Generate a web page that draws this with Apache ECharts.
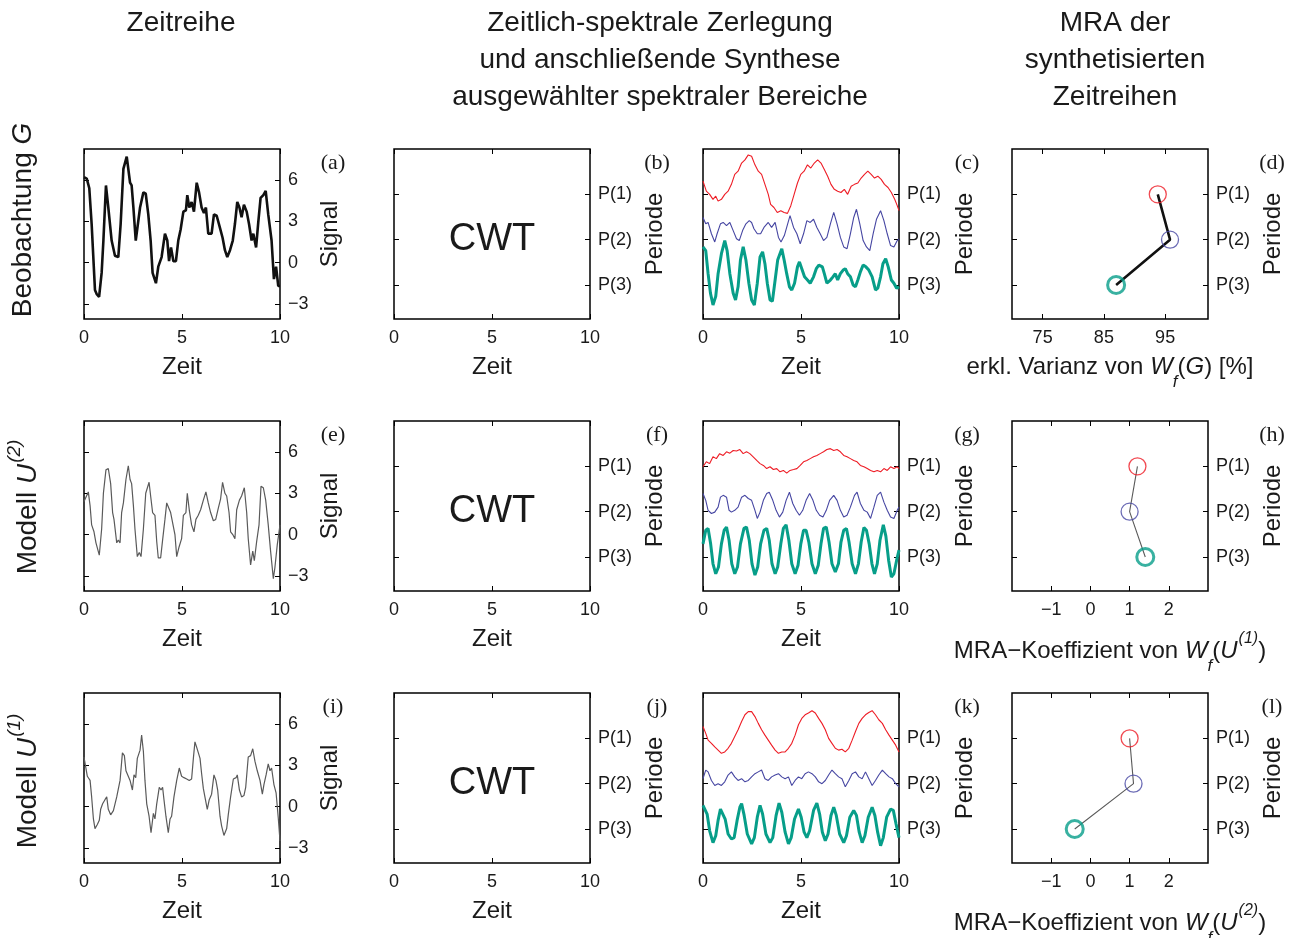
<!DOCTYPE html>
<html>
<head>
<meta charset="utf-8">
<script src="https://cdn.jsdelivr.net/npm/echarts@6/dist/echarts.min.js"></script>
<style>
  html, body { margin: 0; padding: 0; background: #fff; }
  #chart { width: 1295px; height: 938px; }
</style>
</head>
<body>
<div id="chart"></div>
<script>
// Zeitreihen (Spalte 1): [Zeit, Signal]
var obsSignal = [[0,6.2],[0.14,6.1],[0.27,5.4],[0.39,2.8],[0.56,-2.0],[0.65,-2.3],[0.77,-2.5],[0.9,-0.75],[0.99,1.6],[1.12,5.6],[1.24,4.0],[1.41,1.6],[1.58,0.5],[1.75,0.4],[1.87,2.8],[2.01,6.8],[2.18,7.7],[2.26,7.6],[2.35,5.8],[2.43,5.6],[2.52,4.0],[2.64,1.6],[2.72,1.7],[2.86,4.0],[3.03,5.1],[3.15,5.0],[3.28,3.5],[3.4,1.6],[3.5,-0.75],[3.67,-1.5],[3.79,-0.3],[3.96,0.4],[4.13,2.1],[4.25,1.6],[4.34,0.1],[4.44,1.1],[4.56,0.1],[4.69,0.1],[4.81,1.6],[4.93,2.4],[5.07,3.7],[5.2,3.8],[5.27,4.9],[5.37,4.0],[5.49,4.4],[5.61,3.7],[5.75,5.8],[5.87,5.1],[6.0,4.0],[6.12,3.6],[6.22,4.0],[6.34,2.1],[6.51,2.1],[6.63,3.5],[6.77,3.4],[6.94,2.5],[7.07,1.8],[7.19,0.9],[7.31,0.4],[7.45,0.9],[7.59,1.6],[7.7,2.8],[7.82,4.4],[7.93,4.0],[8.04,3.3],[8.16,4.2],[8.3,3.7],[8.42,2.8],[8.55,1.6],[8.64,2.1],[8.78,1.1],[8.89,2.9],[9.01,4.7],[9.15,4.9],[9.27,5.2],[9.4,3.5],[9.57,1.6],[9.69,-1.2],[9.8,-0.3],[9.91,-1.7],[10,-1.7]];
var u2Signal = [[0,2.4],[0.1,2.3],[0.22,3.1],[0.31,2.1],[0.39,0.7],[0.51,0.2],[0.61,-0.6],[0.68,-0.6],[0.78,-1.5],[0.9,0.4],[0.99,3.0],[1.12,4.7],[1.24,4.8],[1.36,3.7],[1.46,1.6],[1.53,1.1],[1.67,-0.6],[1.75,-0.4],[1.84,-0.6],[1.92,1.6],[2.01,2.3],[2.14,4.0],[2.26,5.0],[2.35,4.0],[2.43,3.7],[2.52,2.1],[2.6,0.4],[2.72,-1.6],[2.82,-1.3],[2.91,-1.6],[3.03,0.4],[3.15,3.0],[3.25,3.1],[3.32,3.8],[3.4,2.8],[3.5,1.6],[3.62,1.4],[3.71,-0.5],[3.79,-1.7],[3.91,-1.7],[4.01,-0.4],[4.13,1.1],[4.22,2.3],[4.3,2.2],[4.42,1.6],[4.52,1.5],[4.64,0],[4.73,-1.6],[4.85,-0.9],[4.98,-0.3],[5.07,1.4],[5.2,1.6],[5.27,3.0],[5.37,1.8],[5.49,0.7],[5.61,0.2],[5.71,1.1],[5.83,1.4],[5.95,1.8],[6.09,2.5],[6.22,3.1],[6.34,2.3],[6.46,1.6],[6.6,1.0],[6.72,1.1],[6.85,1.9],[6.97,2.6],[7.07,3.8],[7.19,3.0],[7.28,2.8],[7.4,1.6],[7.48,0.2],[7.59,0],[7.7,-0.3],[7.79,1.8],[7.93,2.5],[8.04,2.8],[8.18,3.4],[8.3,1.6],[8.38,-0.3],[8.5,-2.2],[8.61,-1.2],[8.69,-1.9],[8.81,-0.5],[8.93,0.7],[9.03,3.5],[9.15,3.4],[9.27,2.5],[9.4,0.7],[9.52,-1.2],[9.66,-3.2],[9.74,-2.4],[9.86,-0.75],[10,0.7]];
var u1Signal = [[0,3.6],[0.1,3.5],[0.17,2.2],[0.31,1.9],[0.39,0.7],[0.48,-0.9],[0.56,-1.6],[0.68,-1.3],[0.78,-1.0],[0.85,-0.2],[0.95,0.2],[1.07,0.5],[1.16,0.7],[1.24,-0.2],[1.36,-0.6],[1.5,-0.3],[1.56,-0.2],[1.67,0.7],[1.75,0.7],[1.84,1.9],[1.96,3.9],[2.06,3.7],[2.14,2.6],[2.23,2.6],[2.35,1.9],[2.47,1.2],[2.55,2.3],[2.64,2.1],[2.72,3.5],[2.86,4.1],[2.94,5.2],[3.03,4.0],[3.11,1.9],[3.2,0.2],[3.32,-0.7],[3.42,-1.9],[3.54,-0.5],[3.62,-0.9],[3.71,0.2],[3.84,1.4],[3.93,1.2],[4.01,1.4],[4.08,0.5],[4.18,-0.7],[4.3,-1.9],[4.39,-0.9],[4.47,-0.7],[4.59,0.7],[4.73,1.9],[4.86,2.8],[4.98,2.2],[5.1,2.1],[5.24,2.0],[5.37,1.9],[5.49,2.0],[5.58,3.5],[5.66,4.7],[5.75,4.3],[5.83,4.4],[5.92,3.5],[6.0,2.4],[6.09,1.3],[6.17,1.2],[6.29,-0.2],[6.39,0.5],[6.51,0.9],[6.63,2.3],[6.73,1.9],[6.82,1.2],[6.94,-0.7],[7.02,-1.4],[7.14,-2.1],[7.28,-1.6],[7.36,-0.6],[7.48,0.7],[7.62,2.0],[7.76,2.1],[7.82,2.3],[7.93,1.2],[8.04,0.7],[8.16,0.8],[8.25,1.4],[8.38,3.6],[8.5,3.7],[8.61,4.2],[8.72,3.3],[8.84,2.6],[8.98,1.9],[9.1,0.9],[9.18,1.6],[9.29,2.3],[9.4,3.1],[9.49,2.6],[9.57,2.8],[9.69,1.6],[9.8,1.0],[9.91,-0.8],[10,-2.5]];

// synthetisierte Zeitreihen (Spalte 3), Hoehe in Einheiten der Periodenachse
var obsP1 = [[0,3.29],[0.17,3.07],[0.34,3.0],[0.51,2.89],[0.65,2.96],[0.77,2.85],[0.94,2.89],[1.11,3.0],[1.28,3.07],[1.45,3.22],[1.62,3.44],[1.79,3.51],[1.97,3.69],[2.14,3.76],[2.31,3.87],[2.48,3.84],[2.65,3.65],[2.82,3.51],[2.99,3.44],[3.16,3.22],[3.33,3.0],[3.45,2.78],[3.62,2.71],[3.79,2.6],[3.97,2.64],[4.14,2.6],[4.31,2.58],[4.48,2.75],[4.65,3.0],[4.82,3.25],[4.99,3.44],[5.16,3.51],[5.33,3.65],[5.5,3.58],[5.68,3.69],[5.85,3.76],[6.02,3.69],[6.19,3.55],[6.36,3.4],[6.53,3.22],[6.7,3.11],[6.87,3.07],[7.04,3.04],[7.21,3.11],[7.38,3.0],[7.56,3.18],[7.73,3.22],[7.9,3.25],[8.07,3.36],[8.24,3.44],[8.41,3.51],[8.58,3.44],[8.75,3.36],[8.92,3.4],[9.09,3.33],[9.26,3.22],[9.44,3.15],[9.61,3.04],[9.78,2.89],[9.91,2.75],[10,2.64]];
var obsP2 = [[0,2.49],[0.14,2.35],[0.26,2.38],[0.43,2.13],[0.6,1.95],[0.72,2.13],[0.89,2.35],[1.03,2.38],[1.2,2.31],[1.37,2.38],[1.54,2.2],[1.71,2.02],[1.85,1.98],[2.02,2.2],[2.19,2.35],[2.36,2.42],[2.48,2.38],[2.6,2.24],[2.77,2.13],[2.94,2.13],[3.11,2.27],[3.33,2.38],[3.5,2.27],[3.68,2.38],[3.85,2.05],[3.98,1.95],[4.15,2.09],[4.32,2.35],[4.44,2.53],[4.62,2.27],[4.79,2.13],[4.96,1.91],[5.13,2.13],[5.3,2.42],[5.47,2.38],[5.64,2.45],[5.81,2.27],[5.98,2.13],[6.15,1.98],[6.32,2.05],[6.5,2.35],[6.67,2.6],[6.84,2.35],[7.01,2.05],[7.18,1.84],[7.35,1.8],[7.52,2.13],[7.69,2.49],[7.83,2.67],[8.0,2.35],[8.17,1.98],[8.34,1.84],[8.51,1.76],[8.68,2.13],[8.85,2.45],[9.06,2.64],[9.23,2.42],[9.4,2.13],[9.57,1.87],[9.74,1.84],[9.91,1.98],[10,2.02]];
var obsP3 = [[0,1.84],[0.14,1.76],[0.26,1.25],[0.38,0.82],[0.51,0.56],[0.65,0.75],[0.77,1.25],[0.94,1.69],[1.11,1.98],[1.23,1.76],[1.37,1.25],[1.54,0.82],[1.66,0.67],[1.79,0.96],[1.91,1.55],[2.05,1.84],[2.19,1.55],[2.34,1.04],[2.48,0.67],[2.62,0.56],[2.77,1.04],[2.91,1.62],[3.04,1.73],[3.16,1.47],[3.28,1.04],[3.42,0.67],[3.54,0.64],[3.68,1.11],[3.81,1.55],[4.02,1.8],[4.14,1.55],[4.27,1.25],[4.41,0.96],[4.53,0.89],[4.67,1.04],[4.82,1.4],[4.92,1.51],[5.04,1.36],[5.18,1.18],[5.33,1.11],[5.47,1.04],[5.64,1.18],[5.78,1.36],[5.91,1.44],[6.09,1.4],[6.19,1.25],[6.32,1.04],[6.5,1.11],[6.63,1.18],[6.75,1.25],[6.87,1.11],[7.01,1.25],[7.15,1.33],[7.26,1.36],[7.38,1.25],[7.52,1.18],[7.66,1.0],[7.78,0.96],[7.9,1.11],[8.03,1.29],[8.17,1.44],[8.31,1.4],[8.46,1.33],[8.63,1.18],[8.8,0.89],[8.92,0.93],[9.06,1.18],[9.18,1.47],[9.32,1.58],[9.45,1.4],[9.61,1.11],[9.74,1.04],[9.88,0.93],[10,0.96]];
var u2P1 = [[0,2.99],[0.17,3.1],[0.34,3.06],[0.51,3.21],[0.68,3.17],[0.85,3.28],[1.03,3.24],[1.2,3.32],[1.37,3.29],[1.54,3.35],[1.71,3.34],[1.88,3.37],[2.05,3.28],[2.22,3.32],[2.39,3.28],[2.56,3.21],[2.74,3.13],[2.91,3.06],[3.08,3.02],[3.25,2.95],[3.42,2.99],[3.59,2.93],[3.76,2.95],[3.93,2.88],[4.1,2.91],[4.27,2.85],[4.44,2.91],[4.62,2.93],[4.79,2.95],[4.96,3.02],[5.13,3.1],[5.3,3.13],[5.47,3.17],[5.64,3.21],[5.81,3.24],[5.98,3.28],[6.15,3.32],[6.32,3.37],[6.5,3.39],[6.67,3.35],[6.84,3.37],[7.01,3.32],[7.18,3.24],[7.35,3.21],[7.52,3.17],[7.69,3.13],[7.86,3.1],[8.03,3.02],[8.21,2.99],[8.38,2.95],[8.55,2.91],[8.72,2.88],[8.89,2.91],[9.06,2.88],[9.23,2.95],[9.4,2.91],[9.57,2.99],[9.74,2.95],[9.91,2.99],[10,2.95]];
var u2P2 = [[0,2.4],[0.14,2.25],[0.26,2.03],[0.43,1.96],[0.6,1.99],[0.77,2.1],[0.89,2.32],[1.03,2.36],[1.2,2.32],[1.33,2.03],[1.45,1.99],[1.62,2.03],[1.79,2.1],[1.97,2.32],[2.14,2.36],[2.31,2.29],[2.48,2.25],[2.65,2.03],[2.77,1.85],[2.91,1.99],[3.08,2.25],[3.25,2.4],[3.38,2.43],[3.56,2.25],[3.73,2.03],[3.9,1.88],[4.07,1.99],[4.24,2.25],[4.41,2.43],[4.58,2.18],[4.75,2.03],[4.92,1.92],[5.09,2.03],[5.26,2.25],[5.44,2.4],[5.61,2.25],[5.78,2.03],[5.95,1.92],[6.12,1.88],[6.29,2.03],[6.46,2.25],[6.67,2.36],[6.84,2.25],[7.01,2.03],[7.18,1.88],[7.35,1.92],[7.52,2.1],[7.73,2.36],[7.86,2.43],[8.03,2.18],[8.21,2.03],[8.38,1.99],[8.55,1.85],[8.72,2.1],[8.89,2.36],[9.06,2.43],[9.23,2.21],[9.4,2.03],[9.57,1.88],[9.74,1.85],[9.91,2.03],[10,2.1]];
var u2P3 = [[0,1.29],[0.14,1.59],[0.26,1.63],[0.39,1.29],[0.51,0.85],[0.65,0.63],[0.79,0.78],[0.94,1.29],[1.08,1.59],[1.2,1.66],[1.33,1.37],[1.47,0.85],[1.62,0.63],[1.76,0.78],[1.91,1.29],[2.09,1.63],[2.22,1.66],[2.36,1.37],[2.5,0.85],[2.65,0.6],[2.79,0.78],[2.94,1.29],[3.11,1.59],[3.25,1.63],[3.38,1.37],[3.52,0.85],[3.68,0.63],[3.81,0.78],[3.97,1.29],[4.1,1.63],[4.24,1.71],[4.38,1.37],[4.53,0.85],[4.7,0.63],[4.85,0.82],[4.99,1.29],[5.13,1.59],[5.26,1.59],[5.4,1.33],[5.56,0.85],[5.73,0.63],[5.88,0.82],[6.02,1.29],[6.15,1.63],[6.29,1.66],[6.43,1.33],[6.58,0.85],[6.75,0.67],[6.91,0.85],[7.04,1.33],[7.18,1.59],[7.32,1.63],[7.45,1.33],[7.61,0.85],[7.78,0.63],[7.93,0.85],[8.07,1.33],[8.21,1.65],[8.34,1.59],[8.48,1.29],[8.62,0.85],[8.75,0.63],[8.89,0.85],[9.03,1.37],[9.2,1.71],[9.33,1.46],[9.47,0.93],[9.61,0.56],[9.74,0.63],[9.88,0.93],[10,1.15]];
var u1P1 = [[0,3.26],[0.14,3.11],[0.26,2.96],[0.43,2.89],[0.6,2.81],[0.77,2.74],[0.94,2.67],[1.11,2.7],[1.28,2.78],[1.45,2.89],[1.62,3.04],[1.79,3.19],[1.97,3.37],[2.14,3.52],[2.31,3.59],[2.48,3.59],[2.65,3.48],[2.82,3.33],[2.99,3.19],[3.16,3.07],[3.33,2.96],[3.5,2.85],[3.68,2.74],[3.85,2.67],[4.02,2.7],[4.19,2.7],[4.36,2.78],[4.53,2.89],[4.7,3.07],[4.87,3.3],[5.04,3.44],[5.21,3.52],[5.38,3.56],[5.56,3.61],[5.73,3.56],[5.9,3.44],[6.07,3.33],[6.24,3.19],[6.41,3.0],[6.58,2.89],[6.75,2.78],[6.92,2.74],[7.09,2.76],[7.26,2.7],[7.44,2.78],[7.61,2.96],[7.78,3.15],[7.95,3.33],[8.12,3.44],[8.29,3.52],[8.46,3.57],[8.63,3.61],[8.8,3.52],[8.97,3.41],[9.15,3.33],[9.32,3.19],[9.49,3.07],[9.66,2.96],[9.83,2.85],[10,2.7]];
var u1P2 = [[0,2.11],[0.14,2.3],[0.26,2.26],[0.43,2.07],[0.6,1.96],[0.77,2.0],[0.94,1.96],[1.11,2.04],[1.28,2.19],[1.45,2.26],[1.62,2.15],[1.79,2.07],[1.97,2.11],[2.14,2.04],[2.31,2.07],[2.48,2.15],[2.65,2.22],[2.82,2.26],[2.99,2.3],[3.16,2.11],[3.33,2.07],[3.5,2.15],[3.68,2.19],[3.85,2.22],[4.02,2.15],[4.19,2.11],[4.36,2.15],[4.53,1.96],[4.7,2.07],[4.87,2.15],[5.04,2.11],[5.21,2.22],[5.38,2.26],[5.56,2.22],[5.73,2.15],[5.9,2.04],[6.07,2.0],[6.24,2.07],[6.41,2.19],[6.58,2.3],[6.75,2.22],[6.92,2.15],[7.09,2.11],[7.26,1.93],[7.44,2.07],[7.61,2.22],[7.78,2.26],[7.95,2.15],[8.12,2.11],[8.29,2.26],[8.46,2.11],[8.63,1.96],[8.8,2.07],[8.97,2.19],[9.15,2.3],[9.32,2.22],[9.49,2.15],[9.66,2.11],[9.83,2.0],[10,1.93]];
var u1P3 = [[0,1.52],[0.09,1.56],[0.21,1.33],[0.34,0.96],[0.51,0.7],[0.65,0.85],[0.77,1.19],[0.89,1.44],[0.99,1.48],[1.13,1.22],[1.28,0.89],[1.45,0.78],[1.59,0.81],[1.74,1.19],[1.88,1.48],[1.97,1.56],[2.1,1.3],[2.26,0.89],[2.48,0.67],[2.62,0.81],[2.77,1.26],[2.91,1.52],[3.04,1.33],[3.21,0.89],[3.42,0.7],[3.56,0.81],[3.73,1.3],[3.88,1.57],[4.02,1.37],[4.19,0.93],[4.36,0.67],[4.5,0.81],[4.67,1.22],[4.87,1.44],[5.01,1.26],[5.16,0.93],[5.3,0.81],[5.44,0.96],[5.64,1.41],[5.81,1.57],[5.95,1.33],[6.09,0.93],[6.24,0.74],[6.38,0.89],[6.53,1.3],[6.67,1.48],[6.8,1.3],[6.97,0.89],[7.18,0.7],[7.32,0.85],[7.49,1.26],[7.69,1.41],[7.83,1.3],[7.97,0.93],[8.12,0.7],[8.26,0.85],[8.43,1.26],[8.63,1.48],[8.77,1.3],[8.91,0.93],[9.06,0.63],[9.2,0.81],[9.37,1.26],[9.57,1.44],[9.71,1.41],[9.85,1.11],[10,0.81]];

// MRA (Spalte 4): Werte fuer P(1), P(2), P(3)
var mraObs = [93.8, 95.8, 87.0];
var mraU2 = [1.2, 1.0, 1.4];
var mraU1 = [1.0, 1.1, -0.4];

// Achsen
var periodLevels = [3, 2, 1];
var periodLabels = ['P(1)', 'P(2)', 'P(3)'];
var periodColors = ['#ee1c25', '#4646a2', '#079e89'];
var timeTicks = [0, 5, 10];
var signalTicks = [-3, 0, 3, 6];
var varianceTicks = [75, 85, 95];
var coefTicks = [-1, 0, 1, 2];
var panelTags = ['(a)','(b)','(c)','(d)','(e)','(f)','(g)','(h)','(i)','(j)','(k)','(l)'];

var FONT = "'Liberation Sans', Arial, Helvetica, sans-serif";
var SERIF = "'Liberation Serif', 'Times New Roman', serif";
var INK = '#1a1a1a';

var colLeft = [84, 394, 703, 1012];
var rowTop = [149, 421, 693];
var W = 196, H = 170;
var TICK = 5;

function fmtNum(v) {
  return v < 0 ? '\u2212' + Math.abs(v) : String(v);
}
function fmtPeriod(v) {
  return periodLabels[periodLevels.indexOf(v)];
}

var grids = [], xAxes = [], yAxes = [], series = [];

// Achsen werden um die Ticklaenge nach innen versetzt, damit die Ticks innen liegen (wie in MATLAB)
function axis(dim, g, pos, range, labelOpt) {
  var a = {
    gridIndex: g, type: 'value', position: pos, min: range.min, max: range.max,
    offset: -TICK,
    axisLine: { show: false, onZero: false }, splitLine: { show: false },
    axisTick: { length: TICK, customValues: range.ticks, lineStyle: { color: '#000', width: 1 } },
    axisLabel: { show: false }
  };
  if (labelOpt) {
    a.axisLabel = {
      customValues: range.ticks, formatter: range.fmt, margin: labelOpt.margin + TICK,
      fontSize: 18, fontFamily: FONT, color: INK
    };
  }
  return a;
}

for (var r = 0; r < 3; r++) {
  for (var c = 0; c < 4; c++) {
    var g = r * 4 + c;
    grids.push({
      left: colLeft[c], top: rowTop[r], width: W, height: H,
      show: true, borderColor: '#000', borderWidth: 1.5
    });
    var xr;
    if (c < 3) xr = { min: 0, max: 10, ticks: timeTicks, fmt: fmtNum };
    else if (r === 0) xr = { min: 70, max: 102, ticks: varianceTicks, fmt: fmtNum };
    else xr = { min: -2, max: 3, ticks: coefTicks, fmt: fmtNum };
    var yr = c === 0
      ? { min: -4.1, max: 8.25, ticks: signalTicks, fmt: fmtNum }
      : { min: 0.25, max: 4, ticks: periodLevels, fmt: fmtPeriod };

    xAxes.push(axis('x', g, 'bottom', xr, { margin: 10 }));
    xAxes.push(axis('x', g, 'top', xr, null));
    yAxes.push(axis('y', g, 'right', yr, { margin: 8 }));
    yAxes.push(axis('y', g, 'left', yr, null));
  }
}

function lineSeries(g, data, color, width) {
  return {
    type: 'line', xAxisIndex: 2 * g, yAxisIndex: 2 * g, data: data,
    showSymbol: false, symbol: 'none', smooth: false,
    lineStyle: { color: color, width: width }, animation: false, silent: true
  };
}

// Spalte 1
series.push(lineSeries(0, obsSignal, '#111', 2.6));
series.push(lineSeries(4, u2Signal, '#5a5a5a', 1.2));
series.push(lineSeries(8, u1Signal, '#5a5a5a', 1.2));

// Spalte 3
var synth = [[obsP1, obsP2, obsP3], [u2P1, u2P2, u2P3], [u1P1, u1P2, u1P3]];
var synthWidth = [1.1, 1.1, 3];
for (var r = 0; r < 3; r++) {
  for (var k = 0; k < 3; k++) {
    series.push(lineSeries(r * 4 + 2, synth[r][k], periodColors[k], synthWidth[k]));
  }
}

// Spalte 4
var mraRows = [mraObs, mraU2, mraU1];
for (var r = 0; r < 3; r++) {
  var g = r * 4 + 3;
  var pts = mraRows[r].map(function (v, k) { return [v, periodLevels[k]]; });
  series.push(lineSeries(g, pts, r === 0 ? '#111' : '#5a5a5a', r === 0 ? 2.6 : 1.1));
  series.push({
    type: 'scatter', xAxisIndex: 2 * g, yAxisIndex: 2 * g, symbol: 'circle', symbolSize: 17,
    animation: false, silent: true, z: 5,
    data: pts.map(function (p, k) {
      return {
        value: p,
        itemStyle: { color: 'rgba(0,0,0,0)', borderColor: periodColors[k], borderWidth: k === 2 ? 3 : 1.3 }
      };
    })
  });
}

// Texte
var graphics = [];
function txt(x, y, text, size, opts) {
  var o = opts || {};
  var el = {
    type: 'text', x: x, y: y, rotation: o.rotation || 0, z: 100, silent: true,
    style: {
      text: text, fontSize: size, fontFamily: o.family || FONT, fill: INK,
      align: 'center', textAlign: 'center', verticalAlign: 'middle', textVerticalAlign: 'middle'
    }
  };
  if (o.rich) el.style.rich = o.rich;
  graphics.push(el);
}
function richSet(size, mainPad) {
  var base = { fontSize: size, fontFamily: FONT, fill: INK, color: INK, lineHeight: size + 4, verticalAlign: 'top', padding: [mainPad, 0, 0, 0] };
  return {
    n: base,
    i: Object.assign({}, base, { fontStyle: 'italic' }),
    sup: { fontSize: Math.round(size * 0.68), fontFamily: FONT, fill: INK, color: INK, fontStyle: 'italic', lineHeight: Math.round(size * 0.7), verticalAlign: 'top', padding: [0, 0, 0, 1] },
    sub: { fontSize: Math.round(size * 0.72), fontFamily: FONT, fill: INK, color: INK, fontStyle: 'italic', lineHeight: Math.round(size * 0.72), verticalAlign: 'top', padding: [mainPad + size - 5, 0, 0, 0] }
  };
}

// Spaltentitel
txt(181, 23, 'Zeitreihe', 28);
txt(660, 23, 'Zeitlich-spektrale Zerlegung', 28);
txt(660, 60, 'und anschließende Synthese', 28);
txt(660, 97, 'ausgewählter spektraler Bereiche', 28);
txt(1115, 23, 'MRA der', 28);
txt(1115, 60, 'synthetisierten', 28);
txt(1115, 97, 'Zeitreihen', 28);

// Zeilentitel
txt(25, 220, '{n|Beobachtung }{i|G}', 28, { rotation: Math.PI / 2, rich: richSet(28, 0) });
txt(21, 507, '{n|Modell }{i|U}{sup|(2)}', 28, { rotation: Math.PI / 2, rich: richSet(28, 9) });
txt(21, 781, '{n|Modell }{i|U}{sup|(1)}', 28, { rotation: Math.PI / 2, rich: richSet(28, 9) });

var periodNameX = [655, 965, 1273];
var tagX = [333, 657, 967, 1272];
for (var r = 0; r < 3; r++) {
  var rowY = rowTop[r], midY = rowY + H / 2, bottomY = rowY + H;
  txt(330, midY, 'Signal', 24, { rotation: Math.PI / 2 });
  for (var k = 0; k < 3; k++) txt(periodNameX[k], midY, 'Periode', 24, { rotation: Math.PI / 2 });
  for (var c = 0; c < 3; c++) txt(colLeft[c] + W / 2, bottomY + 48, 'Zeit', 24);
  txt(colLeft[1] + W / 2, midY + 6, 'CWT', 38);
  for (var c = 0; c < 4; c++) txt(tagX[c], rowY + 14, panelTags[r * 4 + c], 22, { family: SERIF });
}

txt(1110, 369, '{n|erkl. Varianz von }{i|W}{sub|f}{n|(}{i|G}{n|) [%]}', 24, { rich: richSet(24, 0) });
txt(1110, 645, '{n|MRA\u2212Koeffizient von }{i|W}{sub|f}{n|(}{i|U}{sup|(1)}{n|)}', 24, { rich: richSet(24, 8) });
txt(1110, 917, '{n|MRA\u2212Koeffizient von }{i|W}{sub|f}{n|(}{i|U}{sup|(2)}{n|)}', 24, { rich: richSet(24, 8) });

var chart = echarts.init(document.getElementById('chart'), null, { renderer: 'canvas' });
chart.setOption({
  backgroundColor: '#fff',
  animation: false,
  grid: grids,
  xAxis: xAxes,
  yAxis: yAxes,
  series: series,
  graphic: { elements: graphics }
});
</script>
</body>
</html>
